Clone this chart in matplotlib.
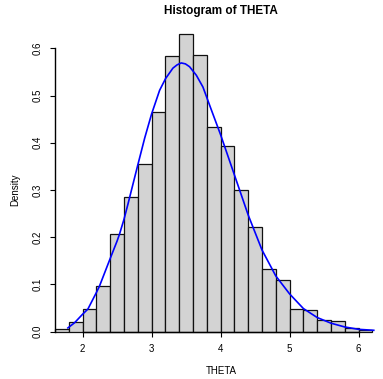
import numpy as np
import matplotlib
matplotlib.use('Agg')
import matplotlib.pyplot as plt

plt.rcParams['font.family'] = ['Liberation Sans', 'DejaVu Sans']

# histogram of THETA, bin width 0.2 starting at 1.6
breaks = [1.6, 1.8, 2.0, 2.2, 2.4, 2.6, 2.8, 3.0, 3.2, 3.4, 3.6, 3.8, 4.0,
          4.2, 4.4, 4.6, 4.8, 5.0, 5.2, 5.4, 5.6, 5.8, 6.0, 6.2]
density = [0.005, 0.020, 0.047, 0.097, 0.206, 0.286, 0.354, 0.465, 0.584,
           0.630, 0.585, 0.433, 0.394, 0.301, 0.221, 0.132, 0.109, 0.049,
           0.045, 0.024, 0.022, 0.007, 0.004]

# blue density curve
curve_x = [1.787, 1.884, 2.0, 2.077, 2.2, 2.246, 2.4, 2.5, 2.536, 2.6, 2.657,
           2.7, 2.8, 2.9, 3.0, 3.116, 3.203, 3.309, 3.37, 3.43, 3.49, 3.55,
           3.648, 3.744, 3.865, 4.0, 4.2, 4.4, 4.6, 4.8, 5.0, 5.2, 5.4, 5.6,
           5.8, 6.0, 6.22]
curve_y = [0.008, 0.019, 0.037, 0.048, 0.083, 0.097, 0.155, 0.192, 0.207,
           0.238, 0.270, 0.295, 0.353, 0.410, 0.461, 0.511, 0.536, 0.558,
           0.565, 0.569, 0.567, 0.561, 0.543, 0.518, 0.470, 0.417, 0.332,
           0.247, 0.173, 0.118, 0.080, 0.049, 0.030, 0.018, 0.010, 0.005,
           0.003]

W, H = 383, 379
fig = plt.figure(figsize=(W/100, H/100), dpi=100)
ax = fig.add_axes([55/W, (H-331.7)/H, 327.75/W, 302.3/H])

left = np.array(breaks[:-1])
widths = np.diff(breaks)
ax.bar(left, density, width=widths, align='edge', color='#d3d3d3',
       edgecolor='#111111', linewidth=0.9, clip_on=False, zorder=2)
ax.plot(curve_x, curve_y, color='blue', linewidth=1.2, zorder=3, clip_on=False)

ax.set_xlim(1.6, 6.35)
ax.set_ylim(0, 0.64)

for s in ['top', 'right']:
    ax.spines[s].set_visible(False)
ax.spines['left'].set_bounds(0, 0.6)
ax.spines['bottom'].set_bounds(2, 6)
ax.spines['left'].set_linewidth(1.0)
ax.spines['bottom'].set_linewidth(1.0)

ax.set_xticks([2, 3, 4, 5, 6])
ax.set_xticklabels(['2', '3', '4', '5', '6'])
ax.set_yticks([0.0, 0.1, 0.2, 0.3, 0.4, 0.5, 0.6])
ax.set_yticklabels(['0.0', '0.1', '0.2', '0.3', '0.4', '0.5', '0.6'])
ax.tick_params(axis='both', direction='out', length=3.6, width=0.8,
               labelsize=7, color='black')
ax.tick_params(axis='x', pad=5)
ax.tick_params(axis='y', pad=5, labelrotation=90)
for lab in ax.get_yticklabels():
    lab.set_verticalalignment('center')

fig.text(221/W, 1 - 11/H, 'Histogram of THETA', ha='center', va='center',
         fontsize=8.5, fontweight='bold')
fig.text(221/W, 1 - 371/H, 'THETA', ha='center', va='center', fontsize=7)
fig.text(15/W, 1 - 190/H, 'Density', ha='center', va='center', fontsize=7,
         rotation=90)

fig.savefig('out.png', dpi=100)
